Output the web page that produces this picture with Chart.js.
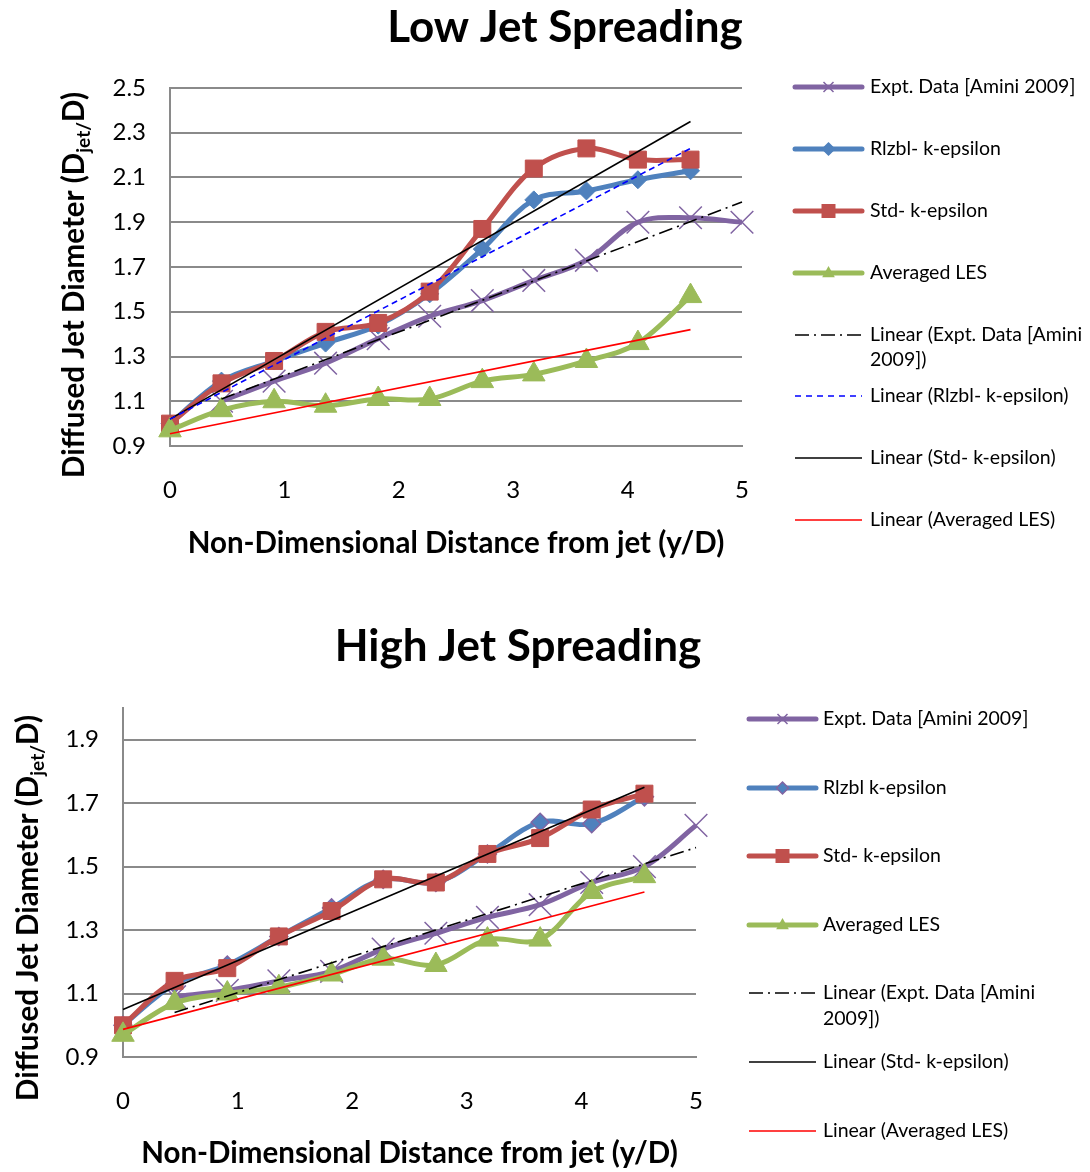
<!DOCTYPE html>
<html>
<head>
<meta charset="utf-8">
<script src="https://cdn.jsdelivr.net/npm/chart.js@4.4.1/dist/chart.umd.min.js"></script>
<style>
  html, body { margin: 0; padding: 0; background: #ffffff; }
  canvas { display: block; }
</style>
</head>
<body>
<canvas id="lowChart" width="1090" height="590"></canvas>
<canvas id="highChart" width="1090" height="582"></canvas>
<script>
// Non-dimensional distance from the jet (y/D) shared by every series
const xPositions = [0, 0.45, 0.91, 1.36, 1.82, 2.27, 2.73, 3.18, 3.64, 4.09, 4.55, 5.0];
const xTicks = [0, 1, 2, 3, 4, 5];
const yTicksLow = [0.9, 1.1, 1.3, 1.5, 1.7, 1.9, 2.1, 2.3, 2.5];
const yTicksHigh = [0.9, 1.1, 1.3, 1.5, 1.7, 1.9];

// Low jet spreading (D_jet / D)
const exptLow  = [null, 1.10, 1.19, 1.27, 1.38, 1.48, 1.55, 1.64, 1.73, 1.90, 1.92, 1.90];
const rlzblLow = [1.00, 1.19, 1.28, 1.36, 1.44, 1.58, 1.78, 2.00, 2.04, 2.09, 2.13];
const stdLow   = [1.00, 1.18, 1.28, 1.41, 1.45, 1.59, 1.87, 2.14, 2.23, 2.18, 2.18];
const lesLow   = [0.97, 1.06, 1.10, 1.08, 1.11, 1.11, 1.19, 1.22, 1.28, 1.36, 1.57];

// High jet spreading (D_jet / D)
const exptHigh  = [null, 1.09, 1.11, 1.14, 1.17, 1.24, 1.29, 1.34, 1.38, 1.45, 1.50, 1.63];
const rlzblHigh = [1.00, 1.13, 1.19, 1.28, 1.37, 1.46, 1.45, 1.54, 1.64, 1.635, 1.72];
const stdHigh   = [1.00, 1.14, 1.18, 1.28, 1.36, 1.46, 1.45, 1.54, 1.59, 1.68, 1.73];
const lesHigh   = [0.97, 1.07, 1.10, 1.12, 1.16, 1.21, 1.19, 1.27, 1.27, 1.42, 1.47];

// Linear trend lines: x span and the values at its two ends
const trendSpanExpt  = [0.45, 5.0];
const trendSpanModel = [0, 4.55];
const trendExptLow  = [1.11, 1.99];
const trendRlzblLow = [1.02, 2.23];
const trendStdLow   = [1.02, 2.35];
const trendLesLow   = [0.955, 1.42];
const trendExptHigh = [1.04, 1.56];
const trendStdHigh  = [1.05, 1.75];
const trendLesHigh  = [0.987, 1.42];

const PURPLE = '#8064A2', BLUE = '#4F81BD', RED = '#C0504D', GREEN = '#9BBB59';
const GRID = '#8a8a8a';
const FONT = 'Lato, "Open Sans", sans-serif';

function points(xs, ys) {
  const out = [];
  ys.forEach((v, i) => { if (v !== null) out.push({ x: xs[i], y: v }); });
  return out;
}

function seriesSet(label, values, color, style, radius, order, border) {
  return {
    label, data: points(xPositions, values), borderColor: color, backgroundColor: color,
    borderWidth: 5, tension: 0.35, pointStyle: style, pointRadius: radius, pointHoverRadius: radius,
    pointBackgroundColor: color, pointBorderColor: border || color,
    pointBorderWidth: style === 'crossRot' ? 1.5 : (border ? 1.5 : 1), clip: false, order
  };
}

function trendSet(label, span, ends, color, dash) {
  return {
    label, data: points(span, ends), borderColor: color, backgroundColor: color,
    borderWidth: 1.6, borderDash: dash || [], pointRadius: 0, pointHoverRadius: 0,
    tension: 0, clip: false, order: 0
  };
}

// Marker used in the legend samples
function drawMarker(ctx, style, x, y, s, fill, stroke) {
  ctx.save();
  ctx.fillStyle = fill; ctx.strokeStyle = stroke; ctx.lineWidth = 1.5;
  ctx.beginPath();
  if (style === 'crossRot') {
    ctx.moveTo(x - s, y - s); ctx.lineTo(x + s, y + s);
    ctx.moveTo(x + s, y - s); ctx.lineTo(x - s, y + s);
    ctx.stroke();
  } else if (style === 'rectRot') {
    ctx.moveTo(x, y - s); ctx.lineTo(x + s, y); ctx.lineTo(x, y + s); ctx.lineTo(x - s, y);
    ctx.closePath(); ctx.fill(); ctx.stroke();
  } else if (style === 'rect') {
    ctx.rect(x - s, y - s, 2 * s, 2 * s); ctx.fill();
  } else if (style === 'triangle') {
    ctx.moveTo(x, y - s); ctx.lineTo(x + s * 0.9, y + s * 0.6); ctx.lineTo(x - s * 0.9, y + s * 0.6);
    ctx.closePath(); ctx.fill();
  }
  ctx.restore();
}

// Titles, axis titles (with subscript) and the legend column
const textLayer = {
  id: 'textLayer',
  afterDraw(chart, args, o) {
    const ctx = chart.ctx;
    ctx.save();
    ctx.fillStyle = '#000';
    // chart title
    ctx.font = 'bold ' + o.titleSize + 'px ' + FONT;
    ctx.textAlign = 'center'; ctx.textBaseline = 'middle';
    ctx.fillText(o.title, o.titleX, o.titleY);
    // x axis title
    ctx.font = 'bold ' + o.axisSize + 'px ' + FONT;
    const a = chart.chartArea;
    ctx.fillText('Non-Dimensional Distance from jet (y/D)', (a.left + a.right) / 2, o.xTitleY);
    // y axis title, rotated, with subscript "jet/"
    ctx.save();
    ctx.translate(o.yTitleX, o.yTitleY);
    ctx.rotate(-Math.PI / 2);
    const main = 'Diffused Jet Diameter (D', sub = 'jet/', tail = 'D)';
    const big = 'bold ' + o.axisSize + 'px ' + FONT, small = 'bold ' + Math.round(o.axisSize * 0.66) + 'px ' + FONT;
    ctx.font = big; const w1 = ctx.measureText(main).width, w3 = ctx.measureText(tail).width;
    ctx.font = small; const w2 = ctx.measureText(sub).width;
    let x = -(w1 + w2 + w3) / 2;
    const base = o.axisSize * 0.36;
    ctx.textAlign = 'left'; ctx.textBaseline = 'alphabetic';
    ctx.font = big; ctx.fillText(main, x, base); x += w1;
    ctx.font = small; ctx.fillText(sub, x, base + o.axisSize * 0.22); x += w2;
    ctx.font = big; ctx.fillText(tail, x, base);
    ctx.restore();
    // legend
    ctx.font = o.legendSize + 'px ' + FONT;
    ctx.textAlign = 'left'; ctx.textBaseline = 'middle';
    o.legend.forEach(item => {
      ctx.save();
      ctx.strokeStyle = item.color;
      ctx.lineWidth = item.width;
      ctx.lineCap = item.marker ? 'round' : 'butt';
      ctx.setLineDash(item.dash || []);
      ctx.beginPath();
      ctx.moveTo(o.lx1, item.y); ctx.lineTo(o.lx2, item.y);
      ctx.stroke();
      ctx.restore();
      if (item.marker) {
        drawMarker(ctx, item.marker, (o.lx1 + o.lx2) / 2, item.y, item.ms, item.color, item.mborder || item.color);
      }
      ctx.fillStyle = '#000';
      item.lines.forEach((t, k) => ctx.fillText(t, o.tx, item.y + k * o.lineGap));
    });
    ctx.restore();
  }
};

function buildChart(id, W, H, area, yMin, yMax, yTicks, datasets, textOpts) {
  const yWidth = area.left - 10;
  const xHeight = H - area.bottom - 10;
  return new Chart(document.getElementById(id), {
    type: 'line',
    data: { datasets },
    plugins: [textLayer],
    options: {
      responsive: false, animation: false, events: [],
      layout: { padding: { left: 10, right: W - area.right, top: area.top, bottom: 10 } },
      plugins: { legend: { display: false }, tooltip: { enabled: false }, title: { display: false }, textLayer: textOpts },
      scales: {
        x: {
          type: 'linear', min: 0, max: 5,
          afterBuildTicks: s => { s.ticks = xTicks.map(v => ({ value: v })); },
          afterFit: s => { s.height = xHeight; },
          ticks: { color: '#000', font: { family: FONT, size: 24 }, padding: 30, callback: v => String(v) },
          grid: { display: false, drawTicks: false },
          border: { display: true, color: GRID, width: 2 }
        },
        y: {
          type: 'linear', min: yMin, max: yMax,
          afterBuildTicks: s => { s.ticks = yTicks.map(v => ({ value: v })); },
          afterFit: s => { s.width = yWidth; },
          ticks: { color: '#000', font: { family: FONT, size: 24 }, padding: 24, callback: v => v.toFixed(1) },
          grid: { color: GRID, lineWidth: 2, drawTicks: false },
          border: { display: true, color: GRID, width: 2 }
        }
      }
    }
  });
}

// ---- Low Jet Spreading ----
buildChart('lowChart', 1090, 590, { left: 170, right: 742, top: 88, bottom: 446 }, 0.9, 2.5, yTicksLow, [
  seriesSet('Expt. Data [Amini 2009]', exptLow, PURPLE, 'crossRot', 16, 8),
  seriesSet('Rlzbl- k-epsilon', rlzblLow, BLUE, 'rectRot', 9, 7),
  seriesSet('Std- k-epsilon', stdLow, RED, 'rect', 12, 6),
  seriesSet('Averaged LES', lesLow, GREEN, 'triangle', 13, 5),
  trendSet('Linear (Expt. Data [Amini 2009])', trendSpanExpt, trendExptLow, '#000000', [14, 5, 2, 5]),
  trendSet('Linear (Rlzbl- k-epsilon)', trendSpanModel, trendRlzblLow, '#0000FF', [6, 4]),
  trendSet('Linear (Std- k-epsilon)', trendSpanModel, trendStdLow, '#000000'),
  trendSet('Linear (Averaged LES)', trendSpanModel, trendLesLow, '#FF0000')
], {
  title: 'Low Jet Spreading', titleX: 565, titleY: 28, titleSize: 44,
  axisSize: 29.5, xTitleY: 543, yTitleX: 73, yTitleY: 285,
  legendSize: 19.5, lx1: 795, lx2: 862, tx: 870, lineGap: 25,
  legend: [
    { y: 87, color: PURPLE, width: 5, marker: 'crossRot', ms: 5, lines: ['Expt. Data [Amini 2009]'] },
    { y: 149, color: BLUE, width: 5, marker: 'rectRot', ms: 6, lines: ['Rlzbl- k-epsilon'] },
    { y: 211, color: RED, width: 5, marker: 'rect', ms: 7, lines: ['Std- k-epsilon'] },
    { y: 273, color: GREEN, width: 5, marker: 'triangle', ms: 7, lines: ['Averaged LES'] },
    { y: 335, color: '#000000', width: 1.6, dash: [14, 5, 2, 5], lines: ['Linear (Expt. Data [Amini', '2009])'] },
    { y: 396, color: '#0000FF', width: 1.6, dash: [6, 5], lines: ['Linear (Rlzbl- k-epsilon)'] },
    { y: 458, color: '#000000', width: 1.6, lines: ['Linear (Std- k-epsilon)'] },
    { y: 520, color: '#FF0000', width: 1.6, lines: ['Linear (Averaged LES)'] }
  ]
});

// ---- High Jet Spreading ----
buildChart('highChart', 1090, 582, { left: 123, right: 696, top: 118, bottom: 467 }, 0.9, 2.0, yTicksHigh, [
  seriesSet('Expt. Data [Amini 2009]', exptHigh, PURPLE, 'crossRot', 16, 8),
  seriesSet('Rlzbl k-epsilon', rlzblHigh, BLUE, 'rectRot', 9, 7, PURPLE),
  seriesSet('Std- k-epsilon', stdHigh, RED, 'rect', 12, 6),
  seriesSet('Averaged LES', lesHigh, GREEN, 'triangle', 13, 5),
  trendSet('Linear (Expt. Data [Amini 2009])', trendSpanExpt, trendExptHigh, '#000000', [14, 5, 2, 5]),
  trendSet('Linear (Std- k-epsilon)', trendSpanModel, trendStdHigh, '#000000'),
  trendSet('Linear (Averaged LES)', trendSpanModel, trendLesHigh, '#FF0000')
], {
  title: 'High Jet Spreading', titleX: 518, titleY: 57, titleSize: 44,
  axisSize: 29.5, xTitleY: 563, yTitleX: 27, yTitleY: 318,
  legendSize: 19.5, lx1: 749, lx2: 816, tx: 823, lineGap: 26,
  legend: [
    { y: 129, color: PURPLE, width: 5, marker: 'crossRot', ms: 5, lines: ['Expt. Data [Amini 2009]'] },
    { y: 198, color: BLUE, width: 5, marker: 'rectRot', ms: 6, mborder: PURPLE, lines: ['Rlzbl k-epsilon'] },
    { y: 266, color: RED, width: 5, marker: 'rect', ms: 7, lines: ['Std- k-epsilon'] },
    { y: 335, color: GREEN, width: 5, marker: 'triangle', ms: 7, lines: ['Averaged LES'] },
    { y: 403, color: '#000000', width: 1.6, dash: [14, 5, 2, 5], lines: ['Linear (Expt. Data [Amini', '2009])'] },
    { y: 472, color: '#000000', width: 1.6, lines: ['Linear (Std- k-epsilon)'] },
    { y: 541, color: '#FF0000', width: 1.6, lines: ['Linear (Averaged LES)'] }
  ]
});
</script>
</body>
</html>
